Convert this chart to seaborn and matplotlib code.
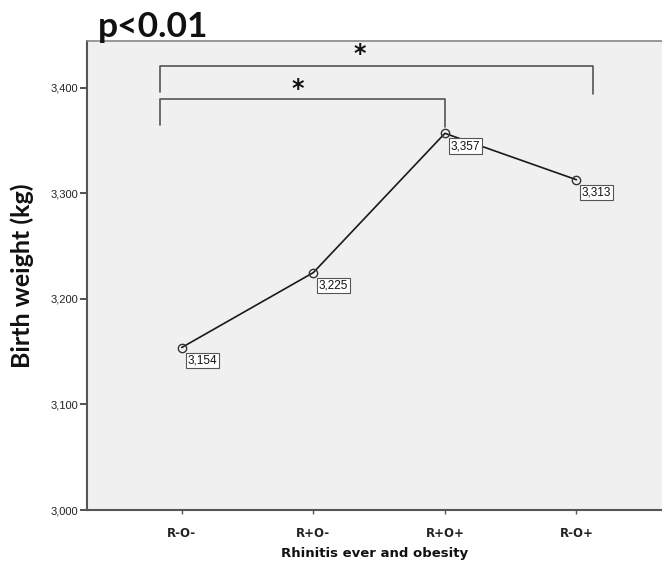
import matplotlib
matplotlib.use("Agg")
import matplotlib.pyplot as plt
import seaborn as sns
import pandas as pd

# Mean birth weight by rhinitis / obesity group
groups = ["R-O-", "R+O-", "R+O+", "R-O+"]
birth_weight = [3154, 3225, 3357, 3313]
value_labels = ["3,154", "3,225", "3,357", "3,313"]
yticks = [3000, 3100, 3200, 3300, 3400]
ytick_labels = ["3,000", "3,100", "3,200", "3,300", "3,400"]

df = pd.DataFrame({"group": groups, "weight": birth_weight})

sns.set_theme(style="white")
fig = plt.figure(figsize=(6.62, 5.61), dpi=100)
ax = fig.add_axes([87 / 662, 51 / 561, 575 / 662, 469 / 561])
ax.set_facecolor("#f0f0f0")

sns.lineplot(data=df, x="group", y="weight", ax=ax, color="#1a1a1a", lw=1.2,
             marker="o", markersize=6, markerfacecolor="none",
             markeredgecolor="#333333", markeredgewidth=1.0, sort=False)

for i, (v, lab) in enumerate(zip(birth_weight, value_labels)):
    ax.annotate(lab, xy=(i, v), xytext=(4, -5), textcoords="offset points",
                ha="left", va="top", fontsize=8.5, family="Liberation Sans",
                color="#111111",
                bbox=dict(boxstyle="square,pad=0.15", fc="white", ec="#555555", lw=0.8))

ax.set_xlim(-0.72, 3.65)
ax.set_ylim(3000, 3444.5)
ax.set_yticks(yticks)
ax.set_yticklabels(ytick_labels, fontsize=8, family="Liberation Sans", color="#222222")
ax.set_xticks(range(len(groups)))
ax.set_xticklabels(groups, fontsize=8.5, fontweight="bold", family="DejaVu Sans", color="#222222")
ax.tick_params(axis="y", which="both", direction="out", length=5, width=1.2,
               color="#333333", left=True, pad=1)
ax.tick_params(axis="x", which="both", direction="out", length=3, width=1,
               color="#555555", bottom=True, pad=9)

for side in ["left", "bottom"]:
    ax.spines[side].set_color("#555555")
    ax.spines[side].set_linewidth(1.5)
ax.spines["top"].set_color("#888888")
ax.spines["top"].set_linewidth(1.2)
ax.spines["right"].set_visible(False)

ax.set_xlabel("Rhinitis ever and obesity", fontsize=9.5, fontweight="bold",
              family="DejaVu Sans", color="#111111", labelpad=5)
ax.set_ylabel("Birth weight (kg)", fontsize=18, fontweight="bold",
              family="Lato", color="#111111")
ax.yaxis.set_label_coords(-0.092, 0.5)

# Significance brackets
def bracket(x0, x1, y_top, y0_bot, y1_bot):
    ax.plot([x0, x0, x1, x1], [y0_bot, y_top, y_top, y1_bot],
            color="#555555", lw=1.2, solid_joinstyle="round")

bracket(-0.167, 3.125, 3421, 3396, 3394)
bracket(-0.167, 2.0, 3389.5, 3365, 3363)
ax.text(1.35, 3432, "*", ha="center", va="center", fontsize=17,
        fontweight="bold", family="DejaVu Sans", color="#111111")
ax.text(0.88, 3399, "*", ha="center", va="center", fontsize=17,
        fontweight="bold", family="DejaVu Sans", color="#111111")

fig.text(98 / 662, 1 - 27 / 561, "p<0.01", ha="left", va="center",
         fontsize=25.5, fontweight="bold", family="Lato", color="#111111")

fig.savefig("out.png", dpi=100)
